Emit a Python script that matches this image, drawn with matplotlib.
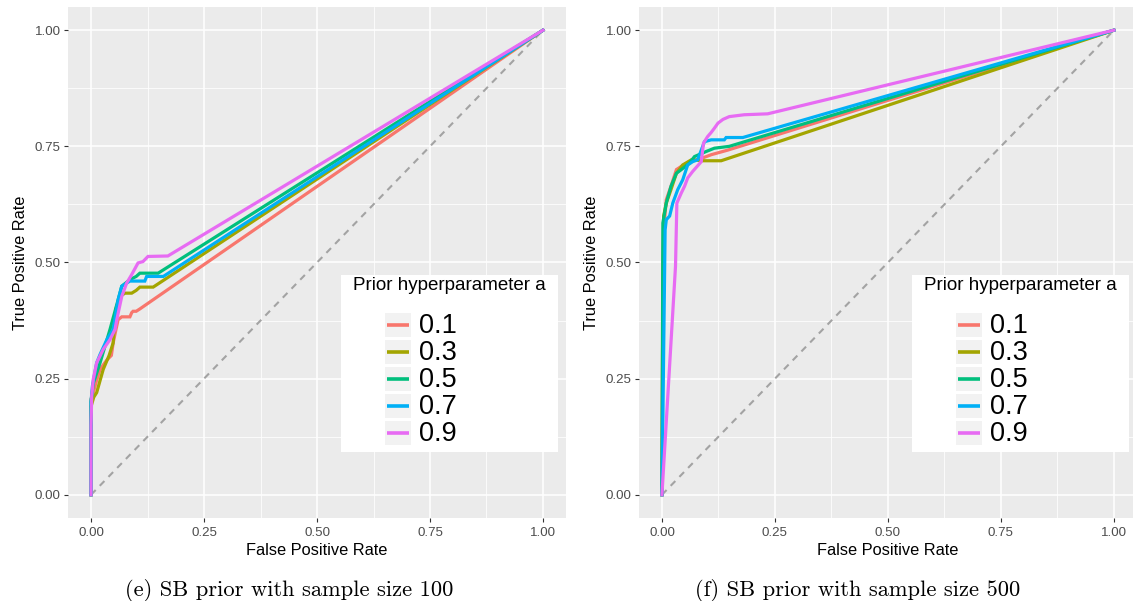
import matplotlib
matplotlib.use("Agg")
import matplotlib.pyplot as plt
from matplotlib.patches import Rectangle

plt.rcParams["font.family"] = ["Liberation Sans", "DejaVu Sans"]

# ----------- data -----------
a_values = ["0.1", "0.3", "0.5", "0.7", "0.9"]
colors = ["#F8766D", "#A3A500", "#00BF7D", "#00B0F6", "#E76BF3"]
ticks = [0, 0.25, 0.5, 0.75, 1.0]
tick_labels = ["0.00", "0.25", "0.50", "0.75", "1.00"]
captions = ["(e) SB prior with sample size 100", "(f) SB prior with sample size 500"]

# sample size 100
n100_fpr_01 = [0, 0, 0.005, 0.012, 0.02, 0.035, 0.045, 0.049, 0.055, 0.06, 0.068, 0.086, 0.09, 0.093, 0.1, 0.108, 1]
n100_tpr_01 = [0, 0.206, 0.22, 0.245, 0.27, 0.29, 0.3, 0.327, 0.355, 0.377, 0.383, 0.383, 0.392, 0.395, 0.395, 0.40, 1]
n100_fpr_03 = [0, 0, 0.006, 0.0125, 0.027, 0.04, 0.049, 0.052, 0.055, 0.064, 0.075, 0.09, 0.10, 0.108, 0.1375, 1]
n100_tpr_03 = [0, 0.19, 0.21, 0.22, 0.27, 0.30, 0.327, 0.37, 0.40, 0.427, 0.434, 0.434, 0.44, 0.447, 0.447, 1]
n100_fpr_05 = [0, 0, 0.005, 0.02, 0.042, 0.06, 0.068, 0.086, 0.1, 0.108, 0.1485, 1]
n100_tpr_05 = [0, 0.2, 0.24, 0.284, 0.356, 0.42, 0.449, 0.463, 0.47, 0.477, 0.477, 1]
n100_fpr_07 = [0, 0, 0.003, 0.0125, 0.02, 0.035, 0.049, 0.06, 0.068, 0.086, 0.119, 0.123, 0.16, 1]
n100_tpr_07 = [0, 0.2, 0.234, 0.284, 0.302, 0.334, 0.356, 0.42, 0.449, 0.46, 0.46, 0.47, 0.47, 1]
n100_fpr_09 = [0, 0, 0.0015, 0.005, 0.0125, 0.027, 0.042, 0.053, 0.057, 0.068, 0.079, 0.09, 0.104, 0.115, 0.126, 0.17, 1]
n100_tpr_09 = [0, 0.15, 0.213, 0.249, 0.284, 0.313, 0.334, 0.356, 0.377, 0.427, 0.456, 0.474, 0.499, 0.502, 0.513, 0.514, 1]

# sample size 500
n500_fpr_01 = [0, 0.002, 0.004, 0.0096, 0.02, 0.032, 0.043, 0.061, 0.09, 0.109, 0.146, 1]
n500_tpr_01 = [0, 0.45, 0.571, 0.635, 0.664, 0.70, 0.707, 0.717, 0.725, 0.732, 0.742, 1]
n500_fpr_03 = [0, 0.002, 0.0037, 0.0096, 0.02, 0.032, 0.046, 0.065, 0.09, 0.131, 1]
n500_tpr_03 = [0, 0.45, 0.6, 0.628, 0.657, 0.692, 0.71, 0.721, 0.719, 0.719, 1]
n500_fpr_05 = [0, 0.002, 0.0096, 0.02, 0.032, 0.043, 0.061, 0.072, 0.098, 0.116, 0.149, 1]
n500_tpr_05 = [0, 0.585, 0.628, 0.664, 0.692, 0.70, 0.714, 0.728, 0.739, 0.746, 0.75, 1]
n500_fpr_07 = [0, 0.007, 0.0096, 0.017, 0.024, 0.035, 0.046, 0.057, 0.068, 0.079, 0.094, 0.109, 0.138, 0.142, 0.179, 1]
n500_tpr_07 = [0, 0.57, 0.592, 0.6, 0.628, 0.657, 0.678, 0.71, 0.717, 0.721, 0.76, 0.764, 0.764, 0.769, 0.769, 1]
n500_fpr_09 = [0, 0.030, 0.033, 0.043, 0.05, 0.057, 0.068, 0.087, 0.092, 0.101, 0.109, 0.116, 0.124, 0.135, 0.149, 0.182, 0.234, 1]
n500_tpr_09 = [0, 0.492, 0.628, 0.65, 0.664, 0.682, 0.696, 0.717, 0.757, 0.771, 0.78, 0.789, 0.80, 0.808, 0.814, 0.818, 0.82, 1]

panels = [
    [(n100_fpr_01, n100_tpr_01), (n100_fpr_03, n100_tpr_03), (n100_fpr_05, n100_tpr_05),
     (n100_fpr_07, n100_tpr_07), (n100_fpr_09, n100_tpr_09)],
    [(n500_fpr_01, n500_tpr_01), (n500_fpr_03, n500_tpr_03), (n500_fpr_05, n500_tpr_05),
     (n500_fpr_07, n500_tpr_07), (n500_fpr_09, n500_tpr_09)],
]


def draw_legend(ax):
    """ggplot-like legend box inside the panel (axes fractions)"""
    ax.add_patch(Rectangle((0.548, 0.129), 0.437, 0.347, transform=ax.transAxes,
                           facecolor="white", edgecolor="none", zorder=5))
    ax.text(0.7665, 0.455, "Prior hyperparameter a", transform=ax.transAxes,
            ha="center", va="center", fontsize=13.5, zorder=6)
    key_h = 0.0528
    for i, (lab, col) in enumerate(zip(a_values, colors)):
        yc = 0.3777 - i * 0.05285
        ax.add_patch(Rectangle((0.637, yc - key_h / 2 + 0.002), 0.052, key_h - 0.004,
                               transform=ax.transAxes, facecolor="#F2F2F2",
                               edgecolor="none", zorder=6))
        ax.plot([0.641, 0.685], [yc, yc], transform=ax.transAxes, color=col,
                lw=2.6, solid_capstyle="butt", zorder=7)
        ax.text(0.705, yc - 0.002, lab, transform=ax.transAxes, ha="left", va="center",
                fontsize=19.5, zorder=7)


fig = plt.figure(figsize=(11.33, 6.01), dpi=100)
lefts = [0.0604, 0.5643]

for k, series in enumerate(panels):
    ax = fig.add_axes([lefts[k], 0.1381, 0.4388, 0.8503])
    ax.set_facecolor("#EBEBEB")
    for s in ax.spines.values():
        s.set_visible(False)
    ax.set_xlim(-0.05, 1.05)
    ax.set_ylim(-0.05, 1.05)
    ax.set_xticks(ticks)
    ax.set_xticklabels(tick_labels)
    ax.set_yticks(ticks)
    ax.set_yticklabels(tick_labels)
    ax.set_xticks([0.125, 0.375, 0.625, 0.875], minor=True)
    ax.set_yticks([0.125, 0.375, 0.625, 0.875], minor=True)
    ax.grid(which="major", color="white", lw=1.1)
    ax.grid(which="minor", color="white", lw=0.55)
    ax.set_axisbelow(True)
    ax.tick_params(which="major", direction="out", length=3.2, width=0.8,
                   color="#333333", labelcolor="#4D4D4D", labelsize=9.6, pad=2.4)
    ax.tick_params(axis="x", which="major", pad=3.6)
    ax.tick_params(which="minor", length=0)

    ax.plot([0, 1], [0, 1], color="#A3A3A3", lw=1.5, dashes=(3.2, 2.8), zorder=2)
    for (fpr, tpr), col in zip(series, colors):
        ax.plot(fpr, tpr, color=col, lw=2.3, zorder=3, solid_joinstyle="miter")

    ax.set_xlabel("False Positive Rate", fontsize=11.8, labelpad=2.5)
    ax.set_ylabel("True Positive Rate", fontsize=11.8, labelpad=5)
    draw_legend(ax)

fig.text(289.5 / 1133, 1 - 590 / 601, captions[0], ha="center", va="center",
         fontsize=16.2, family="cmr10")
fig.text(857.5 / 1133, 1 - 590 / 601, captions[1], ha="center", va="center",
         fontsize=16.2, family="cmr10")

fig.savefig("out.png", dpi=100)
